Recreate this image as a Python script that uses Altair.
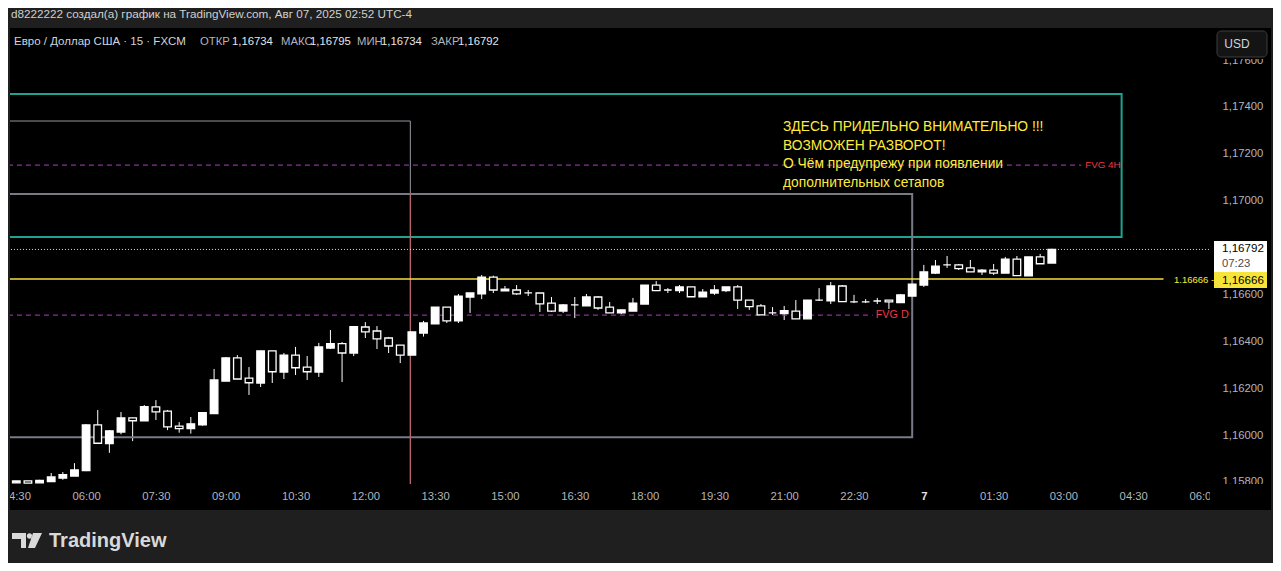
import altair as alt
import pandas as pd

# ---------------- data (EUR/USD, 15 min, FXCM) ----------------
start_time = "2025-08-06 04:30"
opens = [
    1.15796, 1.15804, 1.15796, 1.15801, 1.15816, 1.15825,
    1.15848, 1.16043, 1.15963, 1.16013, 1.16073, 1.16061, 1.16120, 1.16102, 1.16038, 1.16027, 1.16043, 1.16091,
    1.16230, 1.16329, 1.16243, 1.16222, 1.16359, 1.16269, 1.16341, 1.16290, 1.16269, 1.16371, 1.16390, 1.16350,
    1.16461, 1.16444, 1.16414, 1.16384, 1.16341, 1.16435, 1.16474, 1.16546, 1.16487, 1.16589, 1.16602, 1.16674,
    1.16615, 1.16619, 1.16607, 1.16606, 1.16563, 1.16529, 1.16555, 1.16551, 1.16589, 1.16546, 1.16521, 1.16529,
    1.16559, 1.16640, 1.16619, 1.16616, 1.16632, 1.16590, 1.16606, 1.16616, 1.16632, 1.16576, 1.16551, 1.16521,
    1.16518, 1.16529, 1.16496, 1.16576, 1.16573, 1.16636, 1.16568, 1.16568, 1.16572, 1.16576, 1.16565, 1.16593,
    1.16640, 1.16691, 1.16726, 1.16726, 1.16713, 1.16696, 1.16704, 1.16691, 1.16751, 1.16679, 1.16760, 1.16734,
]
highs = [
    1.15804, 1.15804, 1.15809, 1.15838, 1.15842, 1.15880,
    1.16047, 1.16107, 1.16021, 1.16098, 1.16073, 1.16128, 1.16149, 1.16107, 1.16055, 1.16077, 1.16098, 1.16282,
    1.16333, 1.16341, 1.16290, 1.16359, 1.16359, 1.16350, 1.16376, 1.16337, 1.16393, 1.16448, 1.16397, 1.16465,
    1.16482, 1.16465, 1.16418, 1.16384, 1.16440, 1.16487, 1.16546, 1.16546, 1.16602, 1.16606, 1.16683, 1.16680,
    1.16636, 1.16640, 1.16619, 1.16606, 1.16589, 1.16559, 1.16589, 1.16602, 1.16593, 1.16568, 1.16534, 1.16585,
    1.16640, 1.16657, 1.16627, 1.16640, 1.16632, 1.16623, 1.16640, 1.16632, 1.16640, 1.16576, 1.16559, 1.16546,
    1.16551, 1.16576, 1.16576, 1.16627, 1.16653, 1.16640, 1.16598, 1.16580, 1.16585, 1.16576, 1.16602, 1.16644,
    1.16726, 1.16747, 1.16764, 1.16730, 1.16747, 1.16708, 1.16730, 1.16760, 1.16764, 1.16760, 1.16773, 1.16795,
]
lows = [
    1.15796, 1.15795, 1.15796, 1.15801, 1.15809, 1.15825,
    1.15846, 1.15965, 1.15924, 1.16003, 1.15974, 1.16061, 1.16064, 1.16021, 1.16010, 1.16006, 1.16040, 1.16090,
    1.16230, 1.16239, 1.16171, 1.16205, 1.16222, 1.16239, 1.16256, 1.16235, 1.16248, 1.16367, 1.16226, 1.16337,
    1.16414, 1.16367, 1.16350, 1.16307, 1.16341, 1.16420, 1.16474, 1.16478, 1.16478, 1.16521, 1.16580, 1.16606,
    1.16615, 1.16598, 1.16593, 1.16525, 1.16525, 1.16521, 1.16499, 1.16551, 1.16534, 1.16521, 1.16516, 1.16529,
    1.16559, 1.16616, 1.16606, 1.16606, 1.16589, 1.16590, 1.16598, 1.16610, 1.16538, 1.16534, 1.16513, 1.16512,
    1.16491, 1.16496, 1.16496, 1.16572, 1.16559, 1.16569, 1.16563, 1.16563, 1.16559, 1.16538, 1.16565, 1.16593,
    1.16632, 1.16687, 1.16713, 1.16704, 1.16696, 1.16683, 1.16683, 1.16691, 1.16679, 1.16679, 1.16731, 1.16734,
]
closes = [
    1.15804, 1.15795, 1.15806, 1.15821, 1.15831, 1.15851,
    1.16043, 1.15965, 1.16018, 1.16073, 1.16061, 1.16121, 1.16099, 1.16035, 1.16027, 1.16048, 1.16095, 1.16235,
    1.16329, 1.16239, 1.16223, 1.16359, 1.16270, 1.16341, 1.16287, 1.16270, 1.16376, 1.16390, 1.16350, 1.16462,
    1.16440, 1.16410, 1.16380, 1.16341, 1.16440, 1.16478, 1.16546, 1.16487, 1.16593, 1.16606, 1.16674, 1.16619,
    1.16623, 1.16602, 1.16607, 1.16560, 1.16529, 1.16555, 1.16555, 1.16589, 1.16542, 1.16521, 1.16534, 1.16563,
    1.16640, 1.16616, 1.16619, 1.16632, 1.16590, 1.16610, 1.16619, 1.16632, 1.16576, 1.16548, 1.16513, 1.16521,
    1.16531, 1.16496, 1.16576, 1.16576, 1.16636, 1.16569, 1.16568, 1.16568, 1.16572, 1.16568, 1.16598, 1.16644,
    1.16696, 1.16721, 1.16726, 1.16710, 1.16696, 1.16704, 1.16691, 1.16751, 1.16680, 1.16760, 1.16731, 1.16792,
]
times = pd.date_range(start_time, periods=len(opens), freq="15min").strftime("%Y-%m-%dT%H:%M:%S").tolist()

x_tick_times = [
    "2025-08-06 04:30", "2025-08-06 06:00", "2025-08-06 07:30", "2025-08-06 09:00",
    "2025-08-06 10:30", "2025-08-06 12:00", "2025-08-06 13:30", "2025-08-06 15:00",
    "2025-08-06 16:30", "2025-08-06 18:00", "2025-08-06 19:30", "2025-08-06 21:00",
    "2025-08-06 22:30", "2025-08-07 00:00", "2025-08-07 01:30", "2025-08-07 03:00",
    "2025-08-07 04:30", "2025-08-07 06:00",
]
y_ticks = [1.158, 1.160, 1.162, 1.164, 1.166, 1.168, 1.170, 1.172, 1.174, 1.176]
x_range = ["2025-08-06 04:28:20", "2025-08-07 06:02:30"]
y_range = [1.15791, 1.17737]

# drawings on the chart (time / price anchors)
zone_4h = {"t1": "2025-08-06T02:00:00", "t2": "2025-08-07T04:15:00", "p1": 1.16845, "p2": 1.17455}
box_a = {"t1": "2025-08-06T02:00:00", "t2": "2025-08-06T12:58:00", "p1": 1.15000, "p2": 1.17340}
box_b = {"t1": "2025-08-06T02:00:00", "t2": "2025-08-06T23:45:00", "p1": 1.15991, "p2": 1.17029}
vline = {"t": "2025-08-06T12:58:00", "p1": 1.15000, "p2": 1.17029}
fvg_4h = {"t1": "2025-08-06T02:00:00", "t2": "2025-08-07T03:23:00", "p": 1.17152, "lt": "2025-08-07T03:28:00"}
fvg_d = {"t1": "2025-08-06T02:00:00", "t2": "2025-08-06T22:54:00", "p": 1.16512, "lt": "2025-08-06T22:58:00"}
level = {"t1": "2025-08-06T02:00:00", "t2": "2025-08-07T05:09:00", "p": 1.16666}
last_price = {"t1": "2025-08-06T02:00:00", "t2": "2025-08-07T08:00:00", "p": 1.16792}

note_lines = [
    "ЗДЕСЬ ПРИДЕЛЬНО ВНИМАТЕЛЬНО !!!",
    "ВОЗМОЖЕН РАЗВОРОТ!",
    "\u00a0О Чём предупрежу при появлении",
    "дополнительных сетапов",
]

FONT = "Liberation Sans"
FRAME = "#1f1f1f"
YELLOW = "#ffeb3b"
one = pd.DataFrame({"k": [0]})


def dt(s):
    ts = pd.Timestamp(s)
    return alt.DateTime(year=ts.year, month=ts.month, date=ts.day,
                        hours=ts.hour, minutes=ts.minute, seconds=ts.second)


def text(s, x, y, color, size, weight="normal", align="left", baseline="middle"):
    return alt.Chart(one).mark_text(
        text=s, align=align, baseline=baseline, color=color, fontSize=size,
        fontWeight=weight, font=FONT
    ).encode(x=alt.value(x), y=alt.value(y))


def box(x1, x2, y1, y2, fill, stroke=None, sw=0, r=0):
    kw = dict(fill=fill, cornerRadius=r)
    if stroke is not None:
        kw.update(stroke=stroke, strokeWidth=sw)
    return alt.Chart(one).mark_rect(**kw).encode(
        x=alt.value(x1), x2=alt.value(x2), y=alt.value(y1), y2=alt.value(y2))


candles = pd.DataFrame({"t": times, "o": opens, "h": highs, "l": lows, "c": closes})

x_axis = alt.Axis(
    values=[dt(v) for v in x_tick_times],
    labelExpr="hours(datum.value) == 0 && minutes(datum.value) == 0 ? '' + date(datum.value) : timeFormat(datum.value, '%H:%M')",
    title=None, grid=False, domain=False, ticks=False, tickSize=0,
    labelPadding=12, labelBaseline="middle", labelFont=FONT, labelFontSize=11.3,
    labelColor={"condition": {"test": "hours(datum.value) == 0", "value": "#e6e6e6"}, "value": "#b2b5be"},
    labelFontWeight={"condition": {"test": "hours(datum.value) == 0", "value": "bold"}, "value": "normal"},
    labelFlush=False, labelOverlap=False,
)
y_axis = alt.Axis(
    orient="right", values=y_ticks,
    labelExpr="replace(format(datum.value, '.5f'), '.', ',')",
    title=None, grid=False, domain=False, ticks=False, tickSize=0,
    labelPadding=12, labelAlign="left", labelBaseline="middle", labelFont=FONT,
    labelFontSize=11.3, labelColor="#b2b5be", labelFlush=False, labelOverlap=False,
)
xs = alt.Scale(domain=[dt(v) for v in x_range])
ys = alt.Scale(domain=y_range, zero=False, nice=False)

wicks = alt.Chart(candles).mark_rule(color="white", strokeWidth=1, clip=True).encode(
    x=alt.X("t:T", scale=xs, axis=x_axis),
    y=alt.Y("l:Q", scale=ys, axis=y_axis),
    y2="h:Q",
)
bodies = alt.Chart(candles).mark_bar(size=7.6, stroke="white", strokeWidth=1.3, clip=True).encode(
    x=alt.X("t:T", axis=x_axis),
    y=alt.Y("o:Q", axis=y_axis),
    y2="c:Q",
    fill=alt.condition("datum.c >= datum.o", alt.value("white"), alt.value("black")),
)


def rect_drawing(d, color, width):
    return alt.Chart(pd.DataFrame([d])).mark_rect(
        fill="black", fillOpacity=0, stroke=color, strokeWidth=width, clip=True
    ).encode(x=alt.X("t1:T", axis=x_axis), x2="t2:T", y=alt.Y("p1:Q", axis=y_axis), y2="p2:Q")


def hline(d, color, width, dash=None):
    kw = dict(color=color, strokeWidth=width, clip=True)
    if dash is not None:
        kw["strokeDash"] = dash
    return alt.Chart(pd.DataFrame([d])).mark_rule(**kw).encode(
        x=alt.X("t1:T", axis=x_axis), x2="t2:T", y=alt.Y("p:Q", axis=y_axis))


def fvg_label(d, label, size):
    return alt.Chart(pd.DataFrame([d])).mark_text(
        text=label, align="left", baseline="middle", color="#f23645", fontSize=size, font=FONT
    ).encode(x=alt.X("lt:T", axis=x_axis), y=alt.Y("p:Q", axis=y_axis))


red_line = alt.Chart(pd.DataFrame([vline])).mark_rule(color="#c8606c", strokeWidth=1, clip=True).encode(
    x=alt.X("t:T", axis=x_axis), y=alt.Y("p1:Q", axis=y_axis), y2="p2:Q")

layers = [
    wicks,
    rect_drawing(zone_4h, "#1fa390", 2),
    rect_drawing(box_a, "#9598a1", 1),
    rect_drawing(box_b, "#787b86", 2),
    red_line,
    hline(fvg_4h, "#8e2fa0", 1.2, [5, 4]),
    hline(fvg_d, "#8e2fa0", 1.2, [5, 4]),
    hline(level, "#f5e13c", 1.5),
    hline(last_price, "#e0e0e0", 1, [1, 2]),
    bodies,
    fvg_label(fvg_4h, "FVG 4H", 9.8),
    fvg_label(fvg_d, "FVG D", 10.8),
]
for i, line in enumerate(note_lines):
    layers.append(text(line, 773, 99 + i * 18.7, YELLOW, 13.8))

# right price scale widgets
layers += [
    text("1.16666 -", 1164, 252, YELLOW, 9.5),
    box(1204, 1257, 213, 244, "#ffffff"),
    text("1,16792", 1212, 221, "#000000", 11.6),
    text("07:23", 1212, 235.5, "#4a4a4a", 11.3),
    box(1204, 1257, 244, 260, "#f7e43a"),
    text("1,16666", 1212, 252.5, "#000000", 11.6),
    box(1202, 1261, 0, 31, "#000000"),
    box(1207, 1257, 3, 29, "#141414", "#3c3c3c", 1, 4),
    text("USD", 1227, 16, "#d1d4dc", 12, align="center"),
    box(1200, 1261, 456, 482, "#000000"),
]
# outer frame
layers += [
    box(-10, 1271, -28, 0, FRAME),
    box(-10, 0, -28, 550, FRAME),
    box(1261, 1271, -28, 550, FRAME),
    box(-10, 1271, 482, 550, FRAME),
]
# header, legend, logo
LS = 11.3
layers += [
    text("d8222222 создал(а) график на TradingView.com, Авг 07, 2025 02:52 UTC-4", 1, -14.5, "#cfcfcf", 11.7),
    text("Евро / Доллар США · 15 · FXCM", 4, 14, "#d1d4dc", 11.5),
    text("ОТКР", 190, 14, "#b2b5be", LS), text("1,16734", 222, 14, "#e6e6e6", LS),
    text("МАКС", 271, 14, "#b2b5be", LS), text("1,16795", 300, 14, "#e6e6e6", LS),
    text("МИН", 347, 14, "#b2b5be", LS), text("1,16734", 371, 14, "#e6e6e6", LS),
    text("ЗАКР", 421, 14, "#b2b5be", LS), text("1,16792", 448, 14, "#e6e6e6", LS),
    text("TradingView", 39, 513, "#d9d9d9", 20, weight="bold"),
]
logo_path = ("M-1,-0.5 H-0.067 V0.5 H-0.4 V-0.1 H-1 Z "
             "M-0.013,-0.3 A0.18,0.18 0 1,0 0.347,-0.3 A0.18,0.18 0 1,0 -0.013,-0.3 Z "
             "M0.4,-0.5 H1 L0.533,0.5 H0.067 Z")
layers.append(
    alt.Chart(one).mark_point(shape=logo_path, size=900, filled=True, color="#d9d9d9", opacity=1, strokeWidth=0)
    .encode(x=alt.value(17), y=alt.value(512.5))
)

chart = alt.layer(*layers).properties(
    width=1200, height=456,
    padding={"left": 2, "top": 20, "right": 63, "bottom": 79},
    autosize=alt.AutoSizeParams(type="none"),
).configure(background="#000000").configure_view(stroke=None)

chart.save("out.html", embed_options={"renderer": "svg", "actions": False})
